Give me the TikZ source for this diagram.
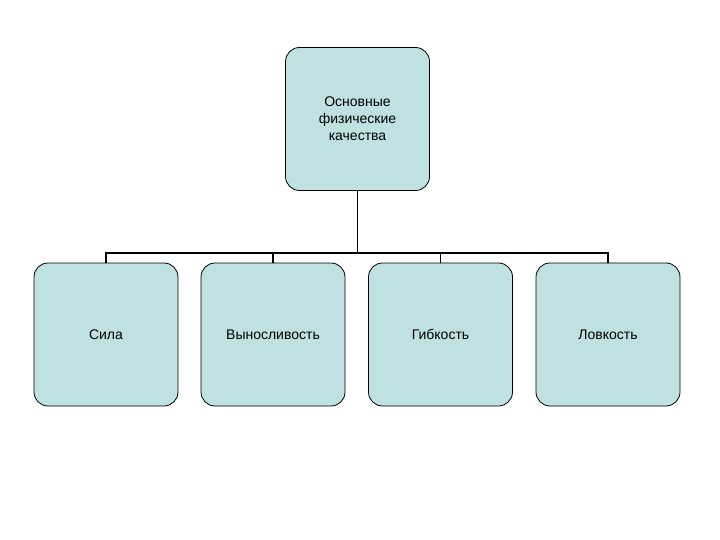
\documentclass[tikz,border=0pt]{standalone}
\usepackage{fontspec}
\setmainfont{Liberation Sans}
\begin{document}
\begin{tikzpicture}[x=1pt,y=-1pt,
  box/.style={draw=black,line width=0.8pt,fill=boxfill,rounded corners=14pt,minimum width=144pt,minimum height=143pt,inner sep=0pt,align=center,font=\fontsize{14}{17}\selectfont},
  conn/.style={line width=1.6pt,draw=black}]
\definecolor{boxfill}{HTML}{BFE1E1}
\useasboundingbox (0,0) rectangle (720,540);
\node[box] (top) at (357.5,119) {Основные\\физические\\качества};
\node[box] (a) at (106,334.5) {Сила};
\node[box] (b) at (273,334.5) {Выносливость};
\node[box] (c) at (440.5,334.5) {Гибкость};
\node[box] (d) at (608,334.5) {Ловкость};
\coordinate (j) at (357.5,253);
\draw[conn] (top.south) -- (j);
\foreach \n in {a,b,c,d} \draw[conn] (j) -| (\n.north);
\end{tikzpicture}
\end{document}
